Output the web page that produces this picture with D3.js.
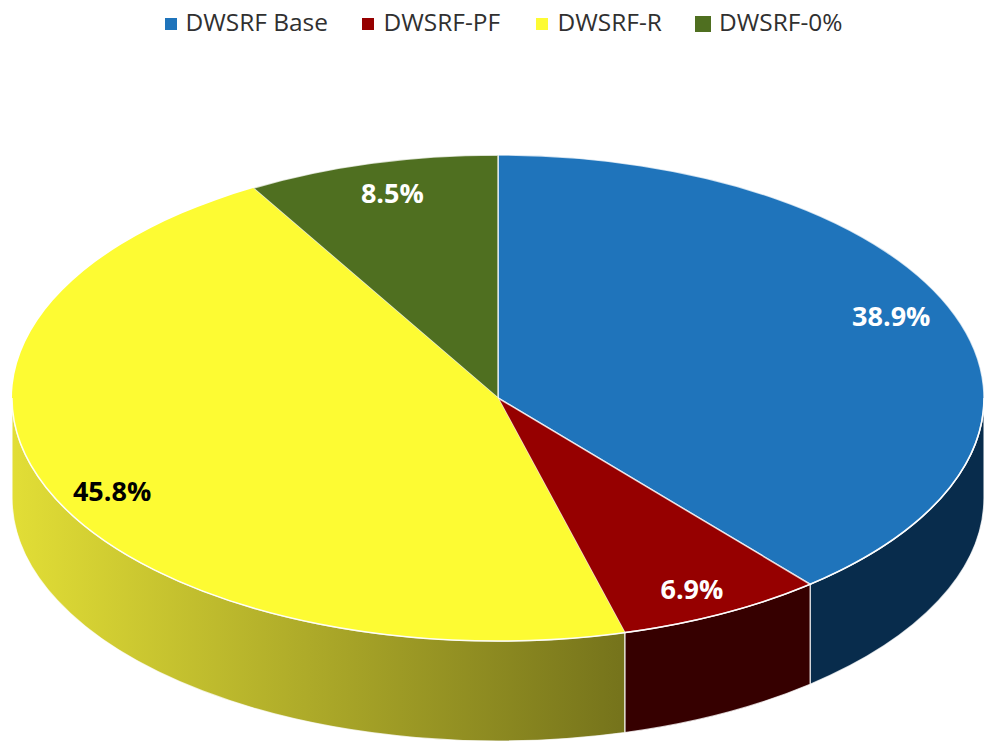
<!DOCTYPE html>
<html>
<head>
<meta charset="utf-8">
<script src="https://cdn.jsdelivr.net/npm/d3@7"></script>
<style>
    html, body { margin: 0; padding: 0; background: #fff; }
    svg { display: block; }
    .slice, .wall, .rim { stroke: #fff; vector-effect: non-scaling-stroke; }
    .slice { stroke-width: 1.5; stroke-opacity: 0.75; }
    .wall { stroke-width: 1.3; stroke-opacity: 0.75; }
    .rim { fill: none; stroke-width: 1.5; stroke-opacity: 0.9; }
    .legend-label { font-family: "Open Sans", sans-serif; font-size: 23.5px; fill: #303030; }
    .value { font-family: "Open Sans", sans-serif; font-size: 27px; font-weight: 700; text-anchor: middle; }
</style>
</head>
<body>
<svg width="987" height="742"></svg>
<script>
const categories = ['DWSRF Base', 'DWSRF-PF', 'DWSRF-R', 'DWSRF-0%'];
const values = [38.9, 6.9, 45.8, 8.4];
const valueLabels = ['38.9%', '6.9%', '45.8%', '8.5%'];
const colors = ['#1f74bb', '#960000', '#fdfb33', '#4f6f20'];
const wallStops = [
    ['#082c4c', '#082c4c'],
    ['#360000', '#360000'],
    ['#e2de36', '#75731b'],
    ['#2e4113', '#2e4113']
];
const labelColors = ['#fff', '#fff', '#000', '#fff'];

const svg = d3.select('svg');

const cx = 498;
const cy = 398;
const rx = 486;
const tilt = 0.5;
const depth = 100;

const pie = d3.pie().sort(null).value((d) => d)(values);
const arc = d3.arc().innerRadius(0).outerRadius(rx);

const defs = svg.append('defs');

const chart = svg.append('g')
    .attr('transform', `translate(${cx}, ${cy}) scale(1, ${tilt})`);

// side walls, only the part of each slice facing the viewer
const wallPath = (d) => {
    const start = Math.max(d.startAngle, Math.PI / 2);
    const end = Math.min(d.endAngle, Math.PI * 1.5);
    if (start >= end) return null;
    const p = d3.path();
    // d3.path angles start at 3 o'clock, pie angles at 12
    p.arc(0, 0, rx, start - Math.PI / 2, end - Math.PI / 2);
    p.arc(0, depth / tilt, rx, end - Math.PI / 2, start - Math.PI / 2, true);
    p.closePath();
    return p.toString();
};

pie.forEach((d, i) => {
    const xs = [d.startAngle, d.endAngle, Math.PI / 2, Math.PI * 1.5]
        .filter((a) => a >= Math.max(d.startAngle, Math.PI / 2) && a <= Math.min(d.endAngle, Math.PI * 1.5))
        .map((a) => cx + rx * Math.sin(a));
    if (xs.length < 2) return;
    const grad = defs.append('linearGradient')
        .attr('id', `wall${i}`)
        .attr('gradientUnits', 'userSpaceOnUse')
        .attr('x1', d3.min(xs) - cx)
        .attr('x2', d3.max(xs) - cx)
        .attr('y1', 0)
        .attr('y2', 0);
    grad.append('stop').attr('offset', 0).attr('stop-color', wallStops[i][0]);
    grad.append('stop').attr('offset', 1).attr('stop-color', wallStops[i][1]);
});

chart.selectAll('.wall')
    .data(pie.filter((d) => wallPath(d)))
    .enter()
    .append('path')
    .attr('class', 'wall')
    .attr('d', wallPath)
    .attr('fill', (d) => `url(#wall${d.index})`);

const slices = chart.selectAll('.slice')
    .data(pie)
    .enter()
    .append('path')
    .attr('class', 'slice')
    .attr('d', arc)
    .attr('fill', (d, i) => colors[i]);

// the yellow slice has no visible white edge against its neighbours
slices.filter((d, i) => i === 2)
    .style('stroke', 'none')
    .raise();

// white rim along the front of the top face
const rim = d3.path();
rim.arc(0, 0, rx, 0, Math.PI);
chart.append('path')
    .attr('class', 'rim')
    .attr('d', rim.toString());

// value labels sit at 88% of the radius, nudged like the original
const labelRadius = 428;
const labelNudge = [[-9, -9], [-4, 2], [9, 11], [6, 2]];

svg.selectAll('.value')
    .data(pie)
    .enter()
    .append('text')
    .attr('class', 'value')
    .attr('x', (d, i) => cx + labelRadius * Math.sin((d.startAngle + d.endAngle) / 2) + labelNudge[i][0])
    .attr('y', (d, i) => cy - labelRadius * tilt * Math.cos((d.startAngle + d.endAngle) / 2) + labelNudge[i][1])
    .attr('dy', '0.36em')
    .attr('fill', (d, i) => labelColors[i])
    .text((d, i) => valueLabels[i]);

// legend
const legendX = d3.scaleOrdinal().domain(categories).range([165, 362, 536, 695]);
const markerSize = d3.scaleOrdinal().domain(categories).range([12, 12, 12, 16]);
const legend = svg.selectAll('.legend')
    .data(categories)
    .enter()
    .append('g')
    .attr('class', 'legend')
    .attr('transform', (d) => `translate(${legendX(d)}, 17)`);

legend.append('rect')
    .attr('y', (d) => 7 - markerSize(d) / 2)
    .attr('width', (d) => markerSize(d))
    .attr('height', (d) => markerSize(d))
    .attr('fill', (d, i) => colors[i]);

// text in the original is a bit wider than Open Sans
legend.append('text')
    .attr('class', 'legend-label')
    .attr('transform', (d, i) => `translate(${[20.5, 21.5, 21.5, 24][i]}, 14) scale(1.04, 1)`)
    .text((d) => d);
</script>
</body>
</html>
